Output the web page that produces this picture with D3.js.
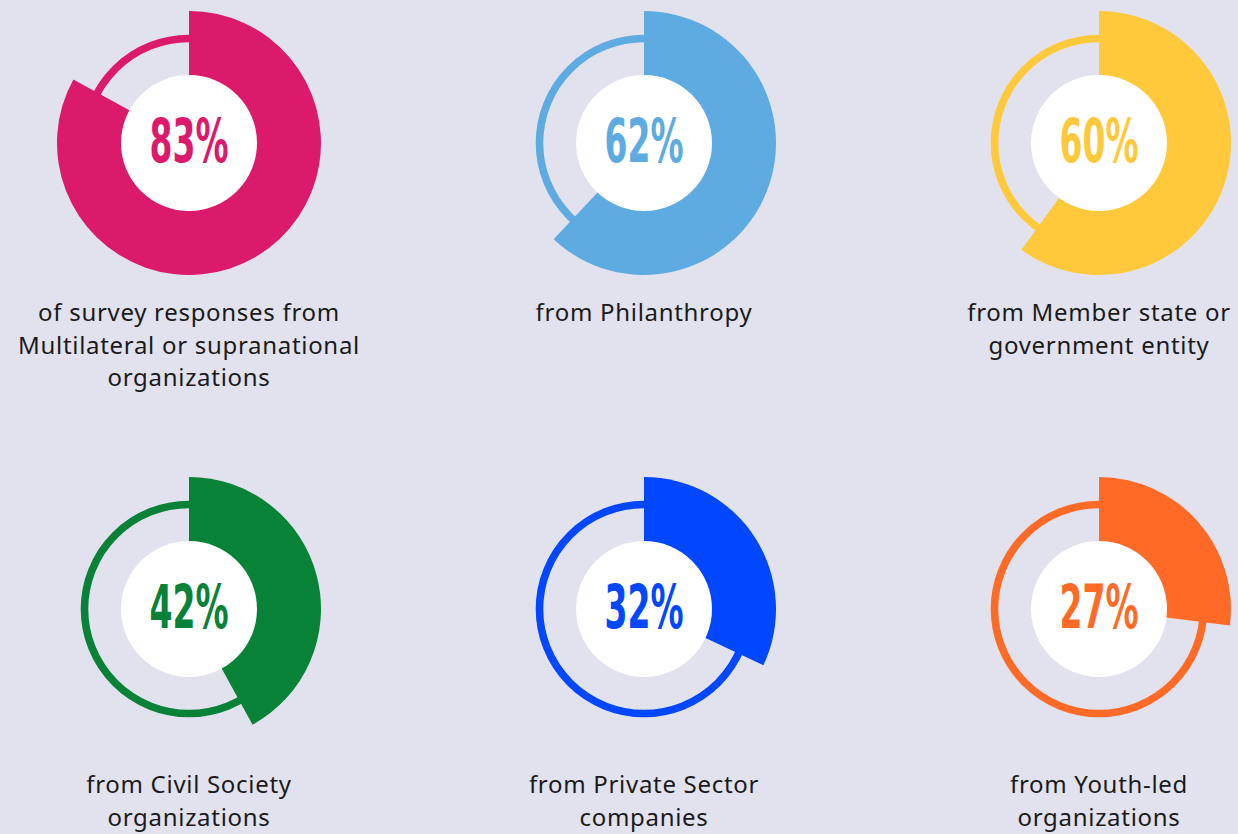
<!DOCTYPE html>
<html>
<head>
<meta charset="utf-8">
<script src="https://cdn.jsdelivr.net/npm/d3@7"></script>
<style>
  html, body { margin: 0; padding: 0; background: #e2e2ee; }
</style>
</head>
<body>
<div id="chart"></div>
<script>
// data
const categories = [
    "Multilateral or supranational organizations",
    "Philanthropy",
    "Member state or government entity",
    "Civil Society organizations",
    "Private Sector companies",
    "Youth-led organizations"
];
const shares = [83, 62, 60, 42, 32, 27];
const labelLines = [
    ["of survey responses from", "Multilateral or supranational", "organizations"],
    ["from Philanthropy"],
    ["from Member state or", "government entity"],
    ["from Civil Society", "organizations"],
    ["from Private Sector", "companies"],
    ["from Youth-led", "organizations"]
];
const colors = ["#dc1a6b", "#5eabe1", "#ffc93b", "#078237", "#0047ff", "#ff6b27"];

const W = 1238, H = 834;
const svg = d3.select("#chart").append("svg")
    .attr("width", W)
    .attr("height", H)
    .style("display", "block");

svg.append("rect").attr("width", W).attr("height", H).attr("fill", "#e2e2ee");

// grid of donuts
const x = d3.scalePoint().domain([0, 1, 2]).range([189, 1099]);
const y = d3.scalePoint().domain([0, 1]).range([143, 609]);
const labelY = [313, 785];

const angle = d3.scaleLinear().domain([0, 100]).range([0, 2 * Math.PI]);

const wedge = d3.arc()
    .innerRadius(0)
    .outerRadius(132)
    .startAngle(0)
    .endAngle(d => angle(d));

const g = svg.selectAll("g.donut")
    .data(shares)
    .join("g")
    .attr("class", "donut")
    .attr("transform", (d, i) => `translate(${x(i % 3)},${y(Math.floor(i / 3))})`);

// thin track ring
g.append("circle")
    .attr("r", 104.5)
    .attr("fill", "none")
    .attr("stroke", (d, i) => colors[i])
    .attr("stroke-width", 7.6);

g.append("path")
    .attr("d", d => wedge(d))
    .attr("fill", (d, i) => colors[i]);

g.append("circle")
    .attr("r", 68)
    .attr("fill", "#ffffff");

g.append("text")
    .attr("text-anchor", "middle")
    .attr("y", 19)
    .attr("textLength", 79)
    .attr("lengthAdjust", "spacingAndGlyphs")
    .style("font-family", "'Liberation Sans Narrow', 'DejaVu Sans Condensed', sans-serif")
    .style("font-weight", "bold")
    .style("font-size", "61px")
    .attr("fill", (d, i) => colors[i])
    .text(d => d + "%");

// labels
svg.selectAll("text.label")
    .data(labelLines)
    .join("text")
    .attr("class", "label")
    .attr("text-anchor", "middle")
    .attr("x", (d, i) => x(i % 3))
    .attr("y", (d, i) => labelY[Math.floor(i / 3)] + 8)
    .style("font-family", "'Noto Sans', Lato, sans-serif")
    .style("font-size", "24px")
    .style("letter-spacing", "0.7px")
    .attr("fill", "#1a1a1a")
    .selectAll("tspan")
    .data(d => d)
    .join("tspan")
    .attr("x", function() { return this.parentNode.getAttribute("x"); })
    .attr("dy", (d, j) => j === 0 ? 0 : 32.5)
    .text(d => d);
</script>
</body>
</html>
